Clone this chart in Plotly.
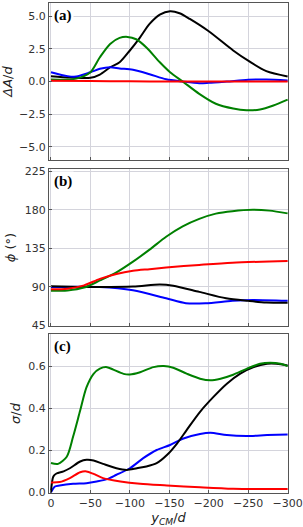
import plotly.graph_objects as go
from plotly.subplots import make_subplots

# ---------- data ----------
# panel (a): ΔA/d
a_black_x = [0, -25, -50, -62, -75, -87, -100, -113, -125, -138, -151, -163, -176, -200, -231, -251, -273, -300]
a_black_y = [0.4, 0.3, 0.28, 0.53, 1.09, 1.47, 2.37, 3.38, 4.4, 5.11, 5.37, 5.22, 4.78, 3.84, 2.37, 1.55, 0.79, 0.38]
a_green_x = [0, -32, -50, -62, -75, -87, -97, -108, -121, -138, -151, -167, -188, -209, -231, -248, -265, -282, -300]
a_green_y = [0.15, 0.22, 0.71, 1.85, 2.87, 3.33, 3.41, 3.23, 2.6, 1.47, 0.71, 0.0, -0.94, -1.7, -2.07, -2.2, -2.14, -1.83, -1.39]
a_blue_x = [0, -21, -32, -50, -62, -75, -87, -104, -125, -146, -167, -188, -200, -223, -250, -273, -300]
a_blue_y = [0.71, 0.41, 0.38, 0.71, 0.97, 1.09, 1.0, 0.9, 0.56, 0.17, 0.0, -0.13, -0.1, 0.0, 0.13, 0.15, 0.08]
a_red_x = [0, -50, -100, -150, -200, -250, -300]
a_red_y = [0.05, 0.03, 0.01, 0.0, 0.0, 0.0, 0.0]

# panel (b): phi (deg)
b_green_x = [0, -21, -42, -62, -83, -104, -125, -146, -167, -188, -209, -230, -256, -277, -300]
b_green_y = [85.5, 86, 89.3, 97.6, 107, 119.5, 133.5, 148.6, 160.7, 169.4, 175.5, 178.4, 180, 179, 175.8]
b_red_x = [0, -21, -42, -62, -83, -104, -125, -146, -188, -230, -300]
b_red_y = [87.4, 88, 91.9, 99.5, 105.2, 108.9, 110.8, 112.7, 115.7, 118.3, 120.3]
b_black_x = [0, -42, -104, -138, -155, -188, -222, -250, -273, -300]
b_black_y = [90.8, 90, 90.5, 93, 91.5, 84.3, 76.8, 73.8, 71.9, 71.6]
b_blue_x = [0, -62, -104, -146, -171, -196, -230, -256, -300]
b_blue_y = [90, 90, 86.2, 76.8, 71.1, 71, 73.8, 74.9, 73.8]

# panel (c): sigma/d
c_green_x = [0, -9, -20, -28, -37, -45, -54, -62, -71, -79, -92, -100, -113, -130, -143, -155, -172, -189, -202, -215, -231, -248, -265, -278, -291, -300]
c_green_y = [0.14, 0.136, 0.17, 0.265, 0.39, 0.5, 0.565, 0.59, 0.597, 0.585, 0.565, 0.562, 0.573, 0.597, 0.602, 0.594, 0.566, 0.542, 0.534, 0.542, 0.561, 0.589, 0.613, 0.618, 0.613, 0.602]
c_black_x = [0, -3, -7, -16, -24, -37, -45, -54, -66, -83, -96, -109, -121, -134, -147, -160, -172, -189, -206, -223, -240, -257, -274, -286, -300]
c_black_y = [0.0, 0.076, 0.09, 0.1, 0.115, 0.147, 0.155, 0.152, 0.136, 0.115, 0.107, 0.115, 0.123, 0.139, 0.178, 0.234, 0.297, 0.384, 0.455, 0.518, 0.566, 0.597, 0.613, 0.613, 0.605]
c_blue_x = [0, -5, -11, -28, -45, -58, -71, -83, -100, -117, -134, -151, -168, -189, -202, -223, -248, -274, -300]
c_blue_y = [0.0, 0.028, 0.033, 0.041, 0.044, 0.052, 0.063, 0.084, 0.115, 0.163, 0.202, 0.226, 0.257, 0.278, 0.284, 0.273, 0.269, 0.273, 0.276]
c_red_x = [0, -11, -24, -37, -45, -54, -66, -88, -113, -147, -189, -231, -300]
c_red_y = [0.047, 0.049, 0.068, 0.096, 0.1, 0.088, 0.068, 0.052, 0.041, 0.033, 0.024, 0.017, 0.016]

x_ticks = [0, -50, -100, -150, -200, -250, -300]
x_ticklabels = ["0", "\u221250", "\u2212100", "\u2212150", "\u2212200", "\u2212250", "\u2212300"]
a_ticks = [-5, -2.5, 0, 2.5, 5]
a_ticklabels = ["\u22125.0", "\u22122.5", "0.0", "2.5", "5.0"]
b_ticks = [45, 90, 135, 180, 225]
b_ticklabels = ["45", "90", "135", "180", "225"]
c_ticks = [0, 0.2, 0.4, 0.6]
c_ticklabels = ["0.0", "0.2", "0.4", "0.6"]

# ---------- figure ----------
BLACK, BLUE, GREEN, RED = "#000000", "#0000ff", "#008000", "#ff0000"
fig = make_subplots(rows=3, cols=1, shared_xaxes=False)

def add(row, xs, ys, color):
    fig.add_trace(go.Scatter(x=xs, y=ys, mode="lines",
                             line=dict(color=color, width=2, shape="spline", smoothing=0.8),
                             showlegend=False, hoverinfo="skip"), row=row, col=1)

add(1, a_black_x, a_black_y, BLACK)
add(1, a_blue_x, a_blue_y, BLUE)
add(1, a_green_x, a_green_y, GREEN)
add(1, a_red_x, a_red_y, RED)

add(2, b_blue_x, b_blue_y, BLUE)
add(2, b_black_x, b_black_y, BLACK)
add(2, b_green_x, b_green_y, GREEN)
add(2, b_red_x, b_red_y, RED)

add(3, c_blue_x, c_blue_y, BLUE)
add(3, c_black_x, c_black_y, BLACK)
add(3, c_green_x, c_green_y, GREEN)
add(3, c_red_x, c_red_y, RED)

tickfont = dict(family="DejaVu Sans", size=11, color="#333333")
titlefont = dict(family="DejaVu Sans", size=13, color="#222222")
axis_common = dict(showline=True, linecolor="#555555", linewidth=1.2, mirror=True,
                   showgrid=True, gridcolor="#d4d4dc", gridwidth=1,
                   ticks="inside", ticklen=3, tickcolor="#555555",
                   zeroline=False, tickfont=tickfont, automargin=False)

domains = [[0.6796, 1.0], [0.3408, 0.6612], [0.0, 0.3245]]
for i in range(3):
    xa = "xaxis" if i == 0 else f"xaxis{i+1}"
    ya = "yaxis" if i == 0 else f"yaxis{i+1}"
    fig.layout[xa].update(**axis_common, range=[2.5, -300.5], tickvals=x_ticks,
                          ticktext=x_ticklabels, showticklabels=(i == 2))
    fig.layout[ya].update(**axis_common, domain=domains[i])

fig.layout.yaxis.update(range=[-6, 6], tickvals=a_ticks, ticktext=a_ticklabels,
                        title=dict(text="<i>\u0394A</i>/<i>d</i>", font=titlefont, standoff=4))
fig.layout.yaxis2.update(range=[44.5, 227.5], tickvals=b_ticks, ticktext=b_ticklabels,
                         ticklabeloverflow="allow",
                         title=dict(text="<i>\u03d5</i> (\u00b0)", font=titlefont, standoff=6))
fig.layout.yaxis3.update(range=[-0.003, 0.755], tickvals=c_ticks, ticktext=c_ticklabels,
                         title=dict(text="<i>\u03c3</i>/<i>d</i>", font=titlefont, standoff=4))
fig.layout.xaxis3.update(title=dict(text="<i>y<sub>CM</sub></i>/<i>d</i>", font=titlefont, standoff=2))

labels = ["(a)", "(b)", "(c)"]
refs = ["y domain", "y2 domain", "y3 domain"]
xrefs = ["x domain", "x2 domain", "x3 domain"]
for lab, yr, xr in zip(labels, refs, xrefs):
    fig.add_annotation(text=f"<b>{lab}</b>", xref=xr, yref=yr, x=0.012, y=0.985,
                       xanchor="left", yanchor="top", showarrow=False,
                       font=dict(family="Liberation Serif", size=15, color="#000000"),
                       bgcolor="white", borderpad=1)

fig.update_layout(width=303, height=527, margin=dict(l=49, r=15, t=3, b=34),
                  plot_bgcolor="white", paper_bgcolor="white")

fig.write_html("out.html", config={"displayModeBar": False},
               post_script="document.body.style.margin='0';")
